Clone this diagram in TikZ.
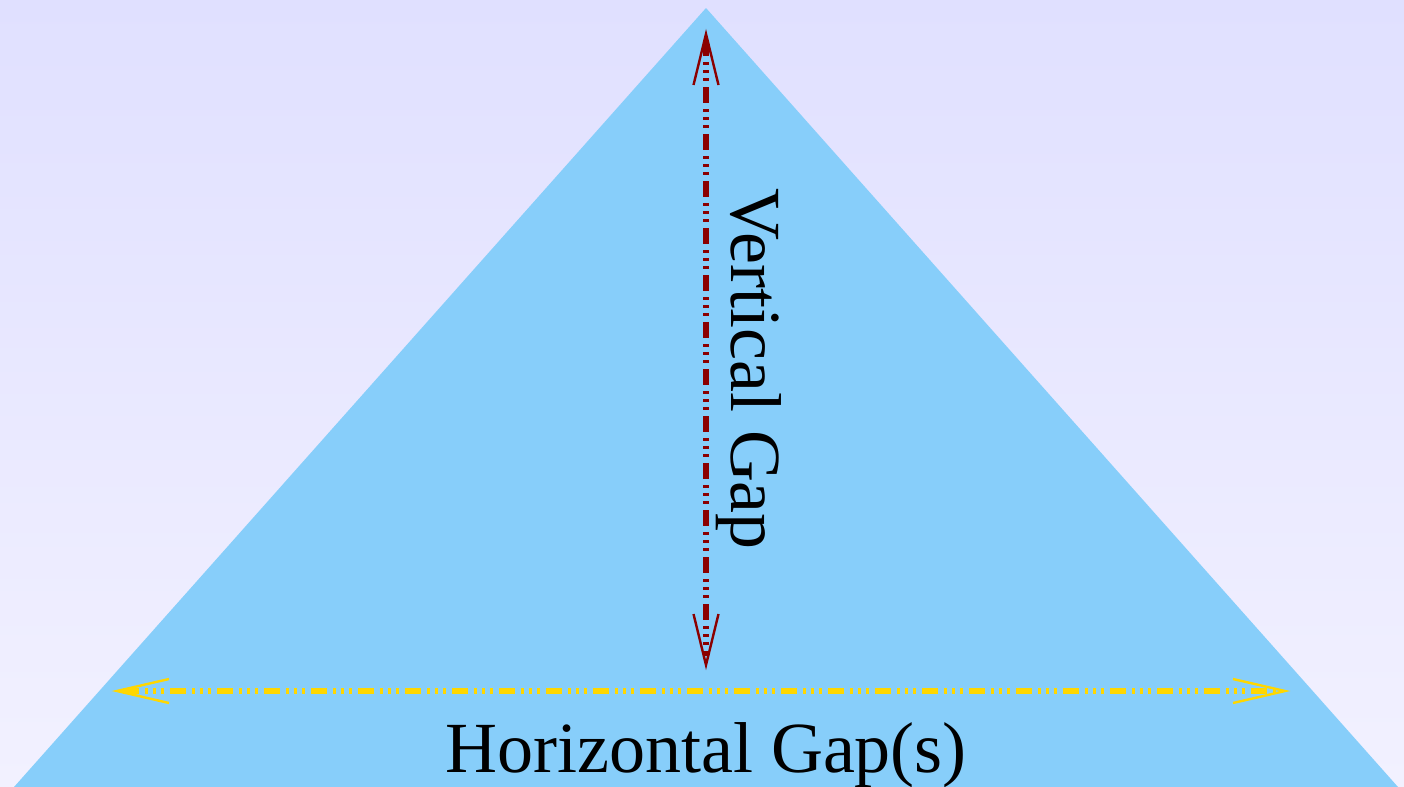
\documentclass[tikz,border=0pt]{standalone}
\usepackage{fontspec}
\setmainfont{Liberation Serif}
\usetikzlibrary{calc}
\definecolor{bgtop}{RGB}{224,224,255}
\definecolor{bgbot}{RGB}{242,241,255}
\definecolor{tri}{RGB}{135,206,250}
\definecolor{vred}{RGB}{139,0,0}
\definecolor{hgold}{RGB}{255,215,0}
\tikzset{
  gapline/.style={line width=2.7pt, dash pattern=on 8pt off 3pt on 1.5pt off 2.5pt on 1.5pt off 2.5pt on 1.5pt off 3pt},
  barb/.style={line width=1.2pt, line cap=butt, line join=miter},
  gaplabel/.style={font=\fontsize{36}{43}\selectfont, inner sep=0pt, text=black}
}
\begin{document}
\begin{tikzpicture}[x=0.5pt,y=-0.5pt]
\useasboundingbox (0,0) rectangle (1404,787);
\shade[top color=bgtop, bottom color=bgbot] (0,0) rectangle (1404,787);
\begin{scope}
\clip (0,0) rectangle (1404,787);
\fill[tri] (14,787) -- (706,8) -- (1398,787) -- cycle;
\end{scope}
% vertical gap
\coordinate (vt) at (706,34);
\coordinate (vb) at (706,665);
\coordinate (vts) at (706,40);
\coordinate (vbs) at (706,656);
\draw[gapline, vred] (vts) -- (vbs);
\draw[barb, vred] ($(vt)+(-12.5,51)$) -- (vt) -- ($(vt)+(12.5,51)$);
\draw[barb, vred] ($(vb)+(-12.5,-51)$) -- (vb) -- ($(vb)+(12.5,-51)$);
% horizontal gap
\coordinate (hl) at (117,691);
\coordinate (hr) at (1285,691);
\coordinate (hls) at (123,691);
\coordinate (hrs) at (1278,691);
\draw[gapline, hgold] (hls) -- (hrs);
\draw[barb, hgold] ($(hl)+(52,-12)$) -- (hl) -- ($(hl)+(52,12)$);
\draw[barb, hgold] ($(hr)+(-52,-12)$) -- (hr) -- ($(hr)+(-52,12)$);
% labels
\node[gaplabel, anchor=base] (hlabel) at (706,772) {Horizontal Gap(s)};
\node[gaplabel, anchor=base, rotate=-90] (vlabel) at (731,369) {Vertical Gap};
\end{tikzpicture}
\end{document}
